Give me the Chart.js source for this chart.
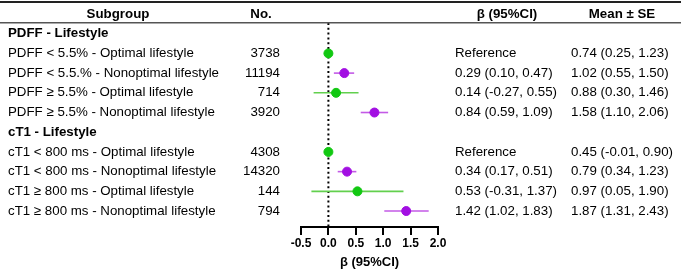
<!DOCTYPE html>
<html>
<head>
<meta charset="utf-8">
<script src="https://cdn.jsdelivr.net/npm/chart.js@4.4.1/dist/chart.umd.min.js"></script>
<style>
  html, body { margin: 0; padding: 0; background: #fff; }
  #wrap { width: 682px; height: 275px; position: relative; }
</style>
</head>
<body>
<div id="wrap"><canvas id="forest"></canvas></div>
<script>
// Forest plot: beta (95%CI) by subgroup
const headers = ['Subgroup', 'No.', 'β (95%CI)', 'Mean ± SE'];

// row index 1..10 (0 = header row)
const rowLabels = [
    'PDFF - Lifestyle',
    'PDFF < 5.5% - Optimal lifestyle',
    'PDFF < 5.5.% - Nonoptimal lifestyle',
    'PDFF ≥ 5.5% - Optimal lifestyle',
    'PDFF ≥ 5.5% - Nonoptimal lifestyle',
    'cT1 - Lifestyle',
    'cT1 < 800 ms - Optimal lifestyle',
    'cT1 < 800 ms - Nonoptimal lifestyle',
    'cT1 ≥ 800 ms - Optimal lifestyle',
    'cT1 ≥ 800 ms - Nonoptimal lifestyle'
];
const isHeading = [true, false, false, false, false, true, false, false, false, false];
const counts = ['', '3738', '11194', '714', '3920', '', '4308', '14320', '144', '794'];
const betaText = ['', 'Reference', '0.29 (0.10, 0.47)', '0.14 (-0.27, 0.55)', '0.84 (0.59, 1.09)',
    '', 'Reference', '0.34 (0.17, 0.51)', '0.53 (-0.31, 1.37)', '1.42 (1.02, 1.83)'];
const meanText = ['', '0.74 (0.25, 1.23)', '1.02 (0.55, 1.50)', '0.88 (0.30, 1.46)', '1.58 (1.10, 2.06)',
    '', '0.45 (-0.01, 0.90)', '0.79 (0.34, 1.23)', '0.97 (0.05, 1.90)', '1.87 (1.31, 2.43)'];

// estimates (null = heading row)
const beta  = [null, 0, 0.29, 0.14, 0.84, null, 0, 0.34, 0.53, 1.42];
const lower = [null, 0, 0.10, -0.27, 0.59, null, 0, 0.17, -0.31, 1.02];
const upper = [null, 0, 0.47, 0.55, 1.09, null, 0, 0.51, 1.37, 1.83];
const group = [null, 'opt', 'non', 'opt', 'non', null, 'opt', 'non', 'opt', 'non'];

const xTicks = [-0.5, 0.0, 0.5, 1.0, 1.5, 2.0];

const GREEN = '#12c812';
const GREEN_LINE = '#62d04e';
const PURPLE = '#a20fe2';
const PURPLE_LINE = '#c35ae6';
const FONT = '"Liberation Sans", Arial, sans-serif';

const Y_MIN = 0.457;
const Y_MAX = 10.81;

const datasets = [];

// reference line at 0
datasets.push({
    type: 'line',
    data: [{ x: 0, y: Y_MIN }, { x: 0, y: Y_MAX }],
    borderColor: '#000',
    borderWidth: 2,
    borderDash: [2, 2.8],
    pointRadius: 0,
    order: 3
});

// confidence intervals
beta.forEach((b, i) => {
    if (b === null || lower[i] === upper[i]) return;
    datasets.push({
        type: 'line',
        data: [{ x: lower[i], y: i + 1 }, { x: upper[i], y: i + 1 }],
        borderColor: group[i] === 'opt' ? GREEN_LINE : PURPLE_LINE,
        borderWidth: 1.6,
        pointRadius: 0,
        order: 2
    });
});

// points
const pts = [];
const ptColors = [];
beta.forEach((b, i) => {
    if (b === null) return;
    pts.push({ x: b, y: i + 1 });
    ptColors.push(group[i] === 'opt' ? GREEN : PURPLE);
});
datasets.push({
    type: 'scatter',
    data: pts,
    backgroundColor: ptColors,
    borderColor: ptColors,
    pointRadius: 4.5,
    order: 1
});

const tablePlugin = {
    id: 'tableText',
    afterDraw(chart) {
        const ctx = chart.ctx;
        const y = chart.scales.y;
        const area = chart.chartArea;
        ctx.save();
        ctx.textBaseline = 'middle';

        // rules
        ctx.fillStyle = '#222';
        ctx.fillRect(0, 1, 681, 2);
        ctx.fillStyle = '#555';
        ctx.fillRect(0, area.top - 1, 681, 1.5);
        ctx.fillStyle = '#000';

        // headers
        const hy = y.getPixelForValue(0);
        ctx.font = `bold 13.3px ${FONT}`;
        ctx.textAlign = 'center';
        ctx.fillText(headers[0], 118, hy);
        ctx.fillText(headers[1], 261, hy);
        ctx.fillText(headers[2], 507, hy);
        ctx.fillText(headers[3], 622, hy);

        rowLabels.forEach((lbl, i) => {
            const py = y.getPixelForValue(i + 1);
            ctx.font = (isHeading[i] ? 'bold ' : '') + `13.3px ${FONT}`;
            ctx.textAlign = 'left';
            ctx.fillText(lbl, 8, py);
            ctx.font = `13.3px ${FONT}`;
            ctx.textAlign = 'right';
            ctx.fillText(counts[i], 280, py);
            ctx.textAlign = 'left';
            ctx.fillText(betaText[i], 455, py);
            ctx.fillText(meanText[i], 571, py);
        });
        ctx.restore();
    }
};

new Chart(document.getElementById('forest'), {
    data: { datasets },
    options: {
        responsive: true,
        maintainAspectRatio: false,
        animation: false,
        layout: { padding: { left: 301, right: 244, top: 23, bottom: 0 } },
        plugins: { legend: { display: false }, tooltip: { enabled: false } },
        scales: {
            x: {
                type: 'linear',
                min: -0.5,
                max: 2.0,
                afterBuildTicks: (scale) => { scale.ticks = xTicks.map(v => ({ value: v })); },
                afterFit: (scale) => { scale.height = 48; },
                ticks: {
                    color: '#000',
                    font: { family: FONT, size: 12, weight: 'bold' },
                    padding: 1,
                    maxRotation: 0,
                    callback: (v) => Number(v).toFixed(1)
                },
                grid: { drawOnChartArea: false, drawTicks: true, tickLength: 8, color: '#000', lineWidth: 2 },
                border: { display: true, color: '#000', width: 2 },
                title: {
                    display: true,
                    text: 'β (95%CI)',
                    color: '#000',
                    font: { family: FONT, size: 13, weight: 'bold' },
                    padding: { top: 1, bottom: 5 }
                }
            },
            y: {
                type: 'linear',
                display: false,
                reverse: true,
                min: Y_MIN,
                max: Y_MAX
            }
        }
    },
    plugins: [tablePlugin]
});
</script>
</body>
</html>
